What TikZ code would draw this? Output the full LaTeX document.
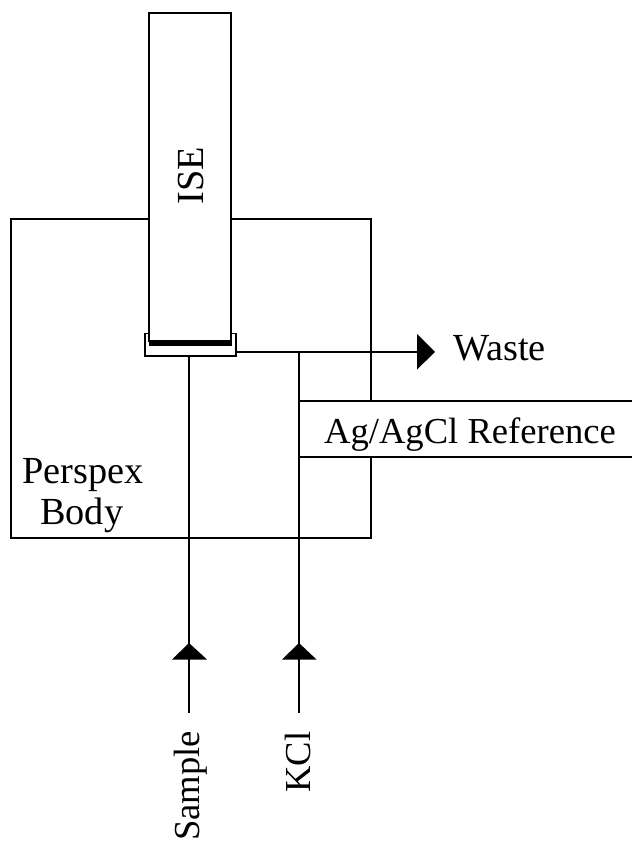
\documentclass[tikz,border=0pt]{standalone}
\usepackage{fontspec}
\setmainfont{Liberation Serif}
\begin{document}
\begin{tikzpicture}[x=1pt,y=-1pt,
  line/.style={draw=black,line width=2pt},
  tip/.style={fill=black,draw=none},
  lbl/.style={font=\fontsize{36.6}{40}\selectfont,inner sep=0pt,text=black},
  lblbig/.style={font=\fontsize{38.3}{40}\selectfont,inner sep=0pt,text=black}]
\useasboundingbox (0,0) rectangle (632,846);
% body
\draw[line] (11,219) rectangle (371,538);
\fill[white] (298,402) rectangle (632,456);
% ISE
\node[draw=black,line width=1.8pt,fill=white,minimum width=90pt,minimum height=22pt,inner sep=0pt] (holder) at (190.5,344.5) {};
\filldraw[line,fill=white] (149,13) rectangle (231,341);
\fill[white] (150,342) rectangle (230,355);
\fill[black] (149,341) rectangle (232,346);
\draw[line width=1.8pt] (holder.north west) -- (holder.south west) -- (holder.south east) -- (holder.north east);
% points
\coordinate (wj) at (299,352);
\coordinate (wasteTip) at (417,352);
\coordinate (sampleEnd) at (189,713);
\coordinate (kclEnd) at (299,713);
\coordinate (refTL) at (632,401);
\coordinate (refBL) at (632,457);
\coordinate (refL) at (299,401);
\coordinate (refLB) at (299,457);
\coordinate (sampleTop) at (189,355.5);
% connectors
\draw[line] (sampleEnd) -- (sampleTop);
\draw[line] (kclEnd) -- (wj);
\draw[line] (holder.east |- wj) -- (wasteTip);
\draw[line] (refL) -- (refTL);
\draw[line] (refLB) -- (refBL);
% arrowheads
\fill[tip] (417,334) -- (435,352) -- (417,369.5) -- cycle;
\fill[tip] (172,659.5) -- (189,643) -- (207,659.5) -- cycle;
\fill[tip] (282,659.5) -- (299,643) -- (316.5,659.5) -- cycle;
% labels
\node[lblbig,rotate=90,anchor=base] (ise) at (203,176) {ISE};
\node[lblbig,anchor=base west] (waste) at (453,360) {Waste};
\node[lbl,anchor=base] (ref) at (470,443) {Ag/AgCl Reference};
\node[lblbig,anchor=base west] (persp) at (22,483) {Perspex};
\node[lblbig,anchor=base west] (bod) at (40,524) {Body};
\node[lbl,rotate=90,anchor=base] (sample) at (199,786) {Sample};
\node[lbl,rotate=90,anchor=base] (kcl) at (310,762) {KCl};
\end{tikzpicture}
\end{document}
